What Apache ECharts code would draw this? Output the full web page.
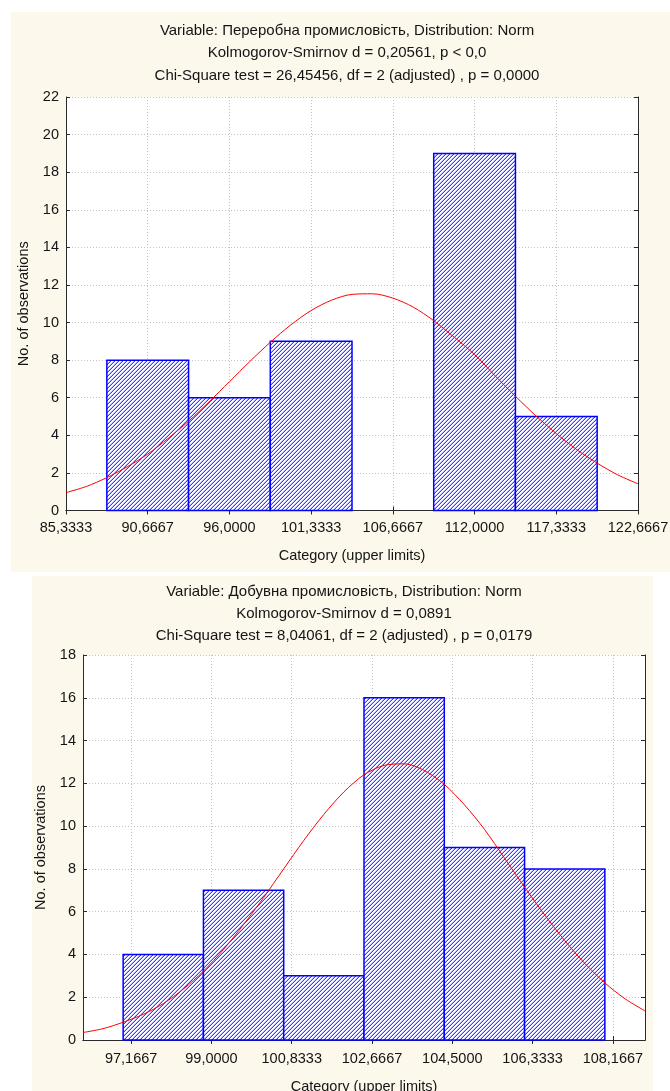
<!DOCTYPE html>
<html><head><meta charset="utf-8">
<script src="https://cdn.jsdelivr.net/npm/echarts@6/dist/echarts.min.js"></script>
<style>html,body{margin:0;padding:0;background:#fff;}#c{width:670px;height:1091px;}</style>
</head><body><div id="c"></div>
<script>
// ---------- Chart 1: Переробна промисловість ----------
const titles1 = [
  'Variable: Переробна промисловість, Distribution: Norm',
  'Kolmogorov-Smirnov d = 0,20561, p < 0,0',
  'Chi-Square test = 26,45456, df = 2 (adjusted) , p = 0,0000'
];
const binEdges1 = [88, 93.3333, 98.6667, 104, 109.3333, 114.6667, 120];
const counts1 = [8, 6, 9, 0, 19, 5];
const tickValues1 = [85.3333, 90.6667, 96, 101.3333, 106.6667, 112, 117.3333, 122.6667];
const tickLabels1 = ['85,3333', '90,6667', '96,0000', '101,3333', '106,6667', '112,0000', '117,3333', '122,6667'];
// fitted normal curve, every 1,3333
const curveX1 = [85.3333, 86.6667, 88, 89.3333, 90.6667, 92, 93.3333, 94.6667, 96, 97.3333,
  98.6667, 100, 101.3333, 102.6667, 104, 105.3333, 106.6667, 108, 109.3333, 110.6667,
  112, 113.3333, 114.6667, 116, 117.3333, 118.6667, 120, 121.3333, 122.6667];
const curveY1 = [0.95, 1.28, 1.75, 2.33, 3.0, 3.84, 4.75, 5.78, 6.85, 7.93,
  8.95, 9.87, 10.64, 11.19, 11.5, 11.53, 11.3, 10.82, 10.1, 9.22,
  8.3, 7.17, 6.08, 5.04, 4.09, 3.24, 2.52, 1.9, 1.42];
const xRange1 = [85.3333, 122.6667];
const yMax1 = 22;

// ---------- Chart 2: Добувна промисловість ----------
const titles2 = [
  'Variable: Добувна промисловість, Distribution: Norm',
  'Kolmogorov-Smirnov d = 0,0891',
  'Chi-Square test = 8,04061, df = 2 (adjusted) , p = 0,0179'
];
const binEdges2 = [97.1667, 99, 100.8333, 102.6667, 104.5, 106.3333, 108.1667];
const counts2 = [4, 7, 3, 16, 9, 8];
const tickValues2 = [97.35, 99.1833, 101.0167, 102.85, 104.6833, 106.5167, 108.35];
const tickLabels2 = ['97,1667', '99,0000', '100,8333', '102,6667', '104,5000', '106,3333', '108,1667'];
const curveX2 = [96.25, 96.7083, 97.1667, 97.625, 98.0833, 98.5417, 99, 99.4583, 99.9167, 100.375,
  100.8333, 101.2917, 101.75, 102.2083, 102.6667, 103.125, 103.5833, 104.0417, 104.5, 104.9583,
  105.4167, 105.875, 106.3333, 106.7917, 107.25, 107.7083, 108.1667, 108.625, 109.0833];
const curveY2 = [0.35, 0.53, 0.83, 1.2, 1.7, 2.38, 3.22, 4.23, 5.4, 6.66,
  8.0, 9.33, 10.55, 11.6, 12.4, 12.84, 12.91, 12.6, 11.95, 11.0,
  9.85, 8.5, 7.15, 5.85, 4.65, 3.58, 2.67, 1.93, 1.36];
const xRange2 = [96.25, 109.0833];
const yMax2 = 18;

const xName = 'Category (upper limits)';
const yName = 'No. of observations';

// ---------- styling ----------
const FONT = '"Liberation Sans", Arial, sans-serif';
const TXT = '#141414';
const AXIS = '#2a2a2a';
const GRIDC = '#c4c4c4';
const CREAM = '#fdf8ec';
const FS = 14.5;

function makeHatch() {
  const c = document.createElement('canvas');
  c.width = 4; c.height = 4;
  const ctx = c.getContext('2d');
  const img = ctx.createImageData(4, 4);
  for (let y = 0; y < 4; y++) for (let x = 0; x < 4; x++) {
    const k = (x + y) % 4;
    const col = k === 3 ? [60, 60, 255] : k === 2 ? [185, 185, 255] : [255, 255, 255];
    const i = (y * 4 + x) * 4;
    img.data[i] = col[0]; img.data[i + 1] = col[1]; img.data[i + 2] = col[2]; img.data[i + 3] = 255;
  }
  ctx.putImageData(img, 0, 0);
  return c;
}
const hatch = { image: makeHatch(), repeat: 'repeat' };

function binsData(edges, counts) {
  return counts.map((c, i) => [edges[i], edges[i + 1], c]);
}
function renderBar(params, api) {
  const h = api.value(2);
  if (!h) return null;
  const p0 = api.coord([api.value(0), 0]);
  const p1 = api.coord([api.value(1), h]);
  return {
    type: 'rect',
    shape: { x: p0[0], y: p1[1], width: p1[0] - p0[0], height: p0[1] - p1[1] },
    style: { fill: hatch, stroke: '#0000ff', lineWidth: 1.5 }
  };
}
function labelFmt(vals, labels) {
  return function (v) {
    for (let i = 0; i < vals.length; i++) if (Math.abs(vals[i] - v) < 1e-3) return labels[i];
    return '';
  };
}
function xAxes(gi, range, vals, labels, lm, ng) {
  return [{
    gridIndex: gi, type: 'value', position: 'bottom', min: range[0], max: range[1],
    axisLine: { show: true, lineStyle: { color: AXIS, width: 1 } },
    axisTick: { show: true, inside: true, length: 4, customValues: vals, lineStyle: { color: AXIS } },
    axisLabel: { show: true, customValues: vals, formatter: labelFmt(vals, labels), margin: lm,
      color: TXT, fontSize: FS, fontFamily: FONT },
    splitLine: { show: true, lineStyle: { color: GRIDC, type: [1, 2], width: 1 } },
    name: xName, nameLocation: 'middle', nameGap: ng,
    nameTextStyle: { color: TXT, fontSize: FS, fontFamily: FONT }
  }, {
    gridIndex: gi, type: 'value', position: 'top', min: range[0], max: range[1],
    axisLine: { show: true, lineStyle: { color: AXIS, width: 1 } },
    axisTick: { show: true, inside: true, length: 4, customValues: vals, lineStyle: { color: AXIS } },
    axisLabel: { show: false }, splitLine: { show: false }
  }];
}
function yAxes(gi, max) {
  return [{
    gridIndex: gi, type: 'value', position: 'left', min: 0, max: max, interval: 2,
    axisLine: { show: true, lineStyle: { color: AXIS, width: 1 } },
    axisTick: { show: true, inside: true, length: 4, lineStyle: { color: AXIS } },
    axisLabel: { color: TXT, fontSize: FS, fontFamily: FONT, margin: 7 },
    splitLine: { show: true, lineStyle: { color: GRIDC, type: [1, 2], width: 1 } },
    name: yName, nameLocation: 'middle', nameGap: 29, nameRotate: 90,
    nameTextStyle: { color: TXT, fontSize: FS, fontFamily: FONT }
  }, {
    gridIndex: gi, type: 'value', position: 'right', min: 0, max: max, interval: 2,
    axisLine: { show: true, lineStyle: { color: AXIS, width: 1 } },
    axisTick: { show: true, inside: true, length: 4, lineStyle: { color: AXIS } },
    axisLabel: { show: false }, splitLine: { show: false }
  }];
}
function titleTexts(lines, cx, ys) {
  return lines.map((t, i) => ({
    type: 'text', x: cx, y: ys[i], z: 10,
    style: { text: t, align: 'center', verticalAlign: 'middle', font: '15px ' + FONT, fill: TXT }
  }));
}

const chart = echarts.init(document.getElementById('c'), null, { renderer: 'canvas' });
chart.setOption({
  animation: false,
  backgroundColor: '#ffffff',
  graphic: [
    { type: 'rect', shape: { x: 11, y: 12, width: 659, height: 560 }, style: { fill: CREAM }, z: -10, silent: true },
    { type: 'rect', shape: { x: 32, y: 576, width: 621, height: 515 }, style: { fill: CREAM }, z: -10, silent: true },
    { type: 'rect', shape: { x: 66, y: 97, width: 572, height: 413.5 }, style: { fill: '#fff' }, z: -9, silent: true },
    { type: 'rect', shape: { x: 83, y: 655, width: 562, height: 385 }, style: { fill: '#fff' }, z: -9, silent: true }
  ].concat(titleTexts(titles1, 347, [31, 53, 76])).concat(titleTexts(titles2, 344, [592, 614, 636])),
  grid: [
    { left: 66, top: 97, width: 572, height: 413.5, containLabel: false, outerBoundsMode: 'none' },
    { left: 83, top: 655, width: 562, height: 385, containLabel: false, outerBoundsMode: 'none' }
  ],
  xAxis: xAxes(0, xRange1, tickValues1, tickLabels1, 10, 38).concat(xAxes(1, xRange2, tickValues2, tickLabels2, 11, 39)),
  yAxis: yAxes(0, yMax1).concat(yAxes(1, yMax2)),
  series: [
    { type: 'custom', xAxisIndex: 0, yAxisIndex: 0, renderItem: renderBar,
      encode: { x: [0, 1], y: 2 }, data: binsData(binEdges1, counts1), z: 2 },
    { type: 'line', xAxisIndex: 0, yAxisIndex: 0, smooth: 0.3, symbol: 'none',
      lineStyle: { color: '#ff0000', width: 1 }, data: curveX1.map((x, i) => [x, curveY1[i]]), z: 3 },
    { type: 'custom', xAxisIndex: 2, yAxisIndex: 2, renderItem: renderBar,
      encode: { x: [0, 1], y: 2 }, data: binsData(binEdges2, counts2), z: 2 },
    { type: 'line', xAxisIndex: 2, yAxisIndex: 2, smooth: 0.3, symbol: 'none',
      lineStyle: { color: '#ff0000', width: 1 }, data: curveX2.map((x, i) => [x, curveY2[i]]), z: 3 }
  ]
});
</script></body></html>
